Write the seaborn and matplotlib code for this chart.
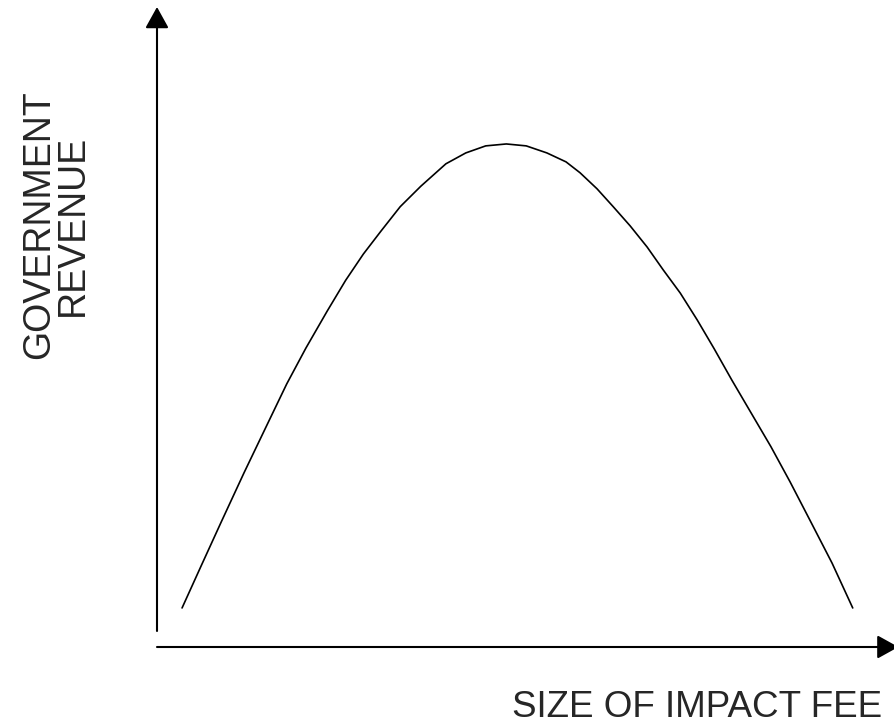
import numpy as np
import pandas as pd
import matplotlib
matplotlib.use("Agg")
import matplotlib.pyplot as plt
import seaborn as sns

# -------------------------------
# Data
# (fee and revenue in arbitrary 0-100 units)
# -------------------------------
fee = [3.4, 6.0, 8.7, 11.8, 14.8, 17.6, 20.2, 23.1, 25.6, 28.0, 30.4, 33.0,
       35.8, 39.2, 41.9, 44.6, 47.4, 50.1, 52.9, 55.5, 57.4, 59.7, 61.9, 64.2,
       66.5, 68.7, 71.0, 73.3, 75.6, 78.0, 80.7, 83.3, 85.9, 88.6, 91.6, 94.4]
revenue = [6.1, 12.7, 19.5, 27.2, 34.4, 41.1, 46.7, 52.5, 57.3, 61.4, 65.0, 68.8,
           72.0, 75.5, 77.2, 78.3, 78.6, 78.3, 77.2, 75.8, 74.1, 71.6, 68.8, 65.8,
           62.5, 58.9, 55.3, 51.1, 46.6, 41.7, 36.4, 31.3, 25.8, 19.8, 13.1, 6.1]

x_label = "SIZE OF IMPACT FEE"
y_label = "GOVERNMENT\nREVENUE"

df = pd.DataFrame({"fee": fee, "revenue": revenue})

# -------------------------------
# Style
# -------------------------------
sns.set_style("white")
plt.rcParams['font.family'] = ['Liberation Sans', 'DejaVu Sans']

W, H = 894, 727
fig = plt.figure(figsize=(W / 100, H / 100), dpi=100)

# axes origin sits where the two arrows meet
ax = fig.add_axes([157 / W, (H - 647) / H, 737 / W, 640 / H])
ax.set_xlim(0, 100)
ax.set_ylim(0, 100)

sns.lineplot(data=df, x="fee", y="revenue", ax=ax, color="black",
             linewidth=1.2, estimator=None, sort=False)

ax.set_axis_off()

# -------------------------------
# Axis arrows
# -------------------------------
arrow = dict(arrowstyle="-|>,head_length=1.3,head_width=0.72", mutation_scale=10,
             color="black", lw=1.5, shrinkA=0, shrinkB=0)
ax.annotate("", xy=(0, 100), xytext=(0, 2.5), arrowprops=arrow,
            annotation_clip=False)
ax.annotate("", xy=(100.6, 0), xytext=(0, 0), arrowprops=arrow,
            annotation_clip=False)

# -------------------------------
# Labels
# -------------------------------
fig.text(56 / W, 1 - 225 / H, y_label, rotation=90, ha="center", va="center",
         multialignment="center", fontsize=27, linespacing=0.9)
fig.text(697.5 / W, (H - 717) / H, x_label, ha="center", va="baseline",
         fontsize=26.5)

fig.savefig("out.png", dpi=100)
